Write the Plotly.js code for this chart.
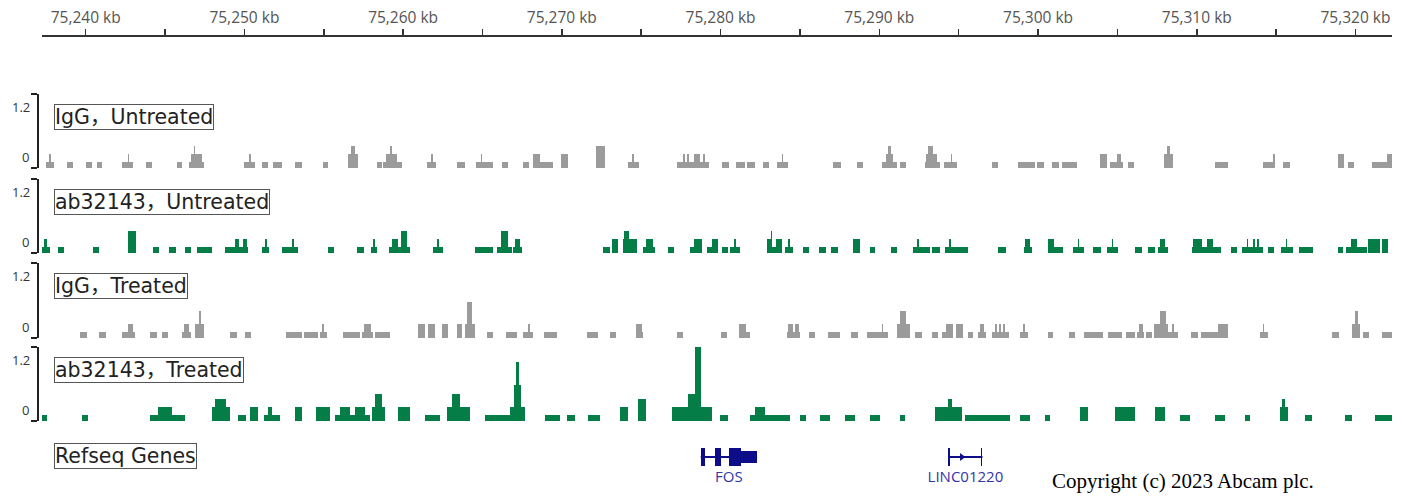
<!DOCTYPE html>
<html><head><meta charset="utf-8">
<script src="https://cdn.plot.ly/plotly-3.0.1.min.js"></script>
<style>html,body{margin:0;padding:0;background:#fff}#chart{width:1405px;height:498px}</style>
</head><body><div id="chart"></div>
<script>
// ---------- data (genomic positions in kb) ----------
const tickKb = [75240,75250,75260,75270,75280,75290,75300,75310,75320];
const tickLabels = ['75,240 kb','75,250 kb','75,260 kb','75,270 kb','75,280 kb','75,290 kb','75,300 kb','75,310 kb','75,320 kb'];
const minorKb = [75245,75255,75265,75275,75285,75295,75305,75315];
const viewKb = [75237.25, 75322.3];
const trackNames = ['IgG，Untreated','ab32143，Untreated','IgG，Treated','ab32143，Treated'];
const scaleLabels = ['1.2','0'];

// [start kb, end kb, signal]
const iggUntreated = [
[75237.5,75238.0,0.1],[75237.7,75237.8,0.22],[75238.8,75239.2,0.1],[75240.0,75240.4,0.1],[75240.7,75241.0,0.1],
[75242.3,75243.0,0.1],[75242.65,75242.75,0.22],[75243.8,75244.2,0.1],[75245.75,75246.1,0.1],
[75246.5,75247.45,0.1],[75246.65,75247.3,0.22],[75246.8,75246.9,0.35],
[75250.0,75250.7,0.1],[75250.3,75250.4,0.22],[75251.1,75251.5,0.1],[75251.8,75252.4,0.1],[75253.2,75253.6,0.1],
[75254.95,75255.25,0.1],[75256.5,75257.15,0.22],[75256.7,75257.0,0.35],[75258.35,75258.65,0.1],
[75258.75,75259.9,0.1],[75258.9,75259.6,0.22],[75259.2,75259.3,0.35],[75261.5,75262.1,0.1],[75261.75,75261.9,0.22],
[75263.4,75263.9,0.1],[75264.6,75265.65,0.1],[75264.9,75265.0,0.22],[75266.2,75266.6,0.1],[75267.55,75267.9,0.1],
[75268.2,75268.6,0.22],[75268.6,75269.45,0.1],[75269.95,75270.4,0.22],[75272.15,75272.7,0.35],
[75274.15,75274.85,0.1],[75274.45,75274.55,0.22],[75277.25,75279.25,0.1],[75277.65,75277.75,0.22],[75277.9,75278.0,0.22],
[75278.3,75278.7,0.22],[75278.9,75279.0,0.22],[75280.1,75280.5,0.1],[75281.0,75281.55,0.1],[75281.65,75282.15,0.1],
[75282.65,75283.05,0.1],[75283.55,75284.25,0.1],[75283.85,75283.95,0.22],[75287.1,75287.6,0.1],[75288.6,75289.0,0.1],
[75290.15,75291.1,0.1],[75290.4,75290.85,0.22],[75290.55,75290.75,0.35],[75291.3,75291.7,0.1],
[75292.9,75293.8,0.1],[75292.95,75293.65,0.22],[75293.05,75293.4,0.35],[75294.05,75294.9,0.1],[75294.5,75294.6,0.22],
[75297.1,75297.5,0.1],[75298.75,75299.8,0.1],[75299.95,75300.4,0.1],[75300.9,75301.3,0.1],[75301.5,75302.45,0.1],
[75303.9,75304.35,0.22],[75304.55,75305.35,0.1],[75305.0,75305.2,0.22],[75305.65,75306.05,0.1],
[75307.95,75308.5,0.22],[75308.1,75308.3,0.35],[75311.15,75311.95,0.1],[75314.2,75314.95,0.1],[75314.8,75314.95,0.22],
[75315.45,75315.85,0.1],[75318.9,75319.3,0.22],[75319.5,75319.9,0.1],[75321.05,75322.0,0.1],[75322.0,75322.3,0.22]
];
const abUntreated = [
[75237.25,75237.75,0.1],[75237.4,75237.55,0.22],[75238.25,75238.65,0.1],[75240.45,75240.85,0.1],[75242.65,75243.15,0.35],
[75244.25,75244.6,0.1],[75245.25,75245.7,0.1],[75246.25,75246.65,0.1],[75247.0,75247.95,0.1],
[75248.8,75250.2,0.1],[75249.4,75249.65,0.22],[75249.9,75250.15,0.22],[75251.1,75251.55,0.1],[75251.3,75251.4,0.22],
[75252.35,75253.35,0.1],[75253.0,75253.1,0.22],[75255.25,75255.65,0.1],[75257.1,75257.55,0.1],
[75257.95,75258.35,0.1],[75258.1,75258.25,0.22],[75259.1,75260.45,0.1],[75259.3,75259.7,0.22],[75259.85,75260.25,0.35],
[75261.9,75262.5,0.1],[75262.15,75262.25,0.22],
[75264.55,75265.65,0.1],[75265.9,75266.85,0.1],[75266.15,75266.6,0.35],[75266.9,75267.5,0.1],[75267.05,75267.35,0.22],
[75272.6,75273.05,0.1],[75273.15,75273.55,0.22],[75273.85,75274.75,0.22],[75273.9,75274.25,0.35],
[75275.1,75275.85,0.1],[75275.3,75275.75,0.22],[75276.7,75277.05,0.1],[75278.05,75278.85,0.1],[75278.3,75278.85,0.22],
[75279.15,75279.85,0.1],[75279.45,75279.85,0.22],[75280.1,75280.45,0.1],[75280.6,75281.2,0.1],[75280.85,75280.95,0.22],
[75282.9,75283.85,0.1],[75282.9,75283.25,0.22],[75283.15,75283.25,0.35],[75283.5,75283.85,0.22],
[75284.05,75284.55,0.1],[75284.25,75284.35,0.22],[75285.2,75285.55,0.1],[75286.2,75286.65,0.1],[75286.95,75287.4,0.1],
[75288.35,75288.8,0.22],[75289.4,75289.75,0.1],[75290.75,75291.1,0.1],[75292.1,75293.2,0.1],[75292.35,75292.5,0.22],
[75293.3,75293.8,0.1],[75294.15,75295.6,0.1],[75294.4,75294.5,0.22],[75297.5,75298.0,0.1],
[75299.1,75299.6,0.1],[75299.2,75299.5,0.22],[75300.6,75301.55,0.1],[75300.6,75301.0,0.22],
[75302.2,75302.9,0.1],[75302.5,75302.6,0.22],[75303.45,75303.95,0.1],[75304.35,75305.05,0.1],[75304.65,75304.75,0.22],
[75306.1,75306.55,0.1],[75306.9,75307.35,0.1],[75307.55,75308.2,0.1],[75307.7,75308.0,0.22],
[75309.7,75311.5,0.1],[75309.75,75310.35,0.22],[75310.65,75311.0,0.22],[75312.15,75312.55,0.1],
[75312.85,75314.15,0.1],[75313.15,75313.25,0.22],[75313.55,75313.65,0.22],[75313.8,75313.9,0.22],
[75314.5,75314.85,0.1],[75315.3,75316.05,0.1],[75315.6,75315.7,0.22],[75316.45,75317.3,0.1],
[75318.9,75319.2,0.1],[75319.4,75320.7,0.1],[75319.7,75320.1,0.22],[75320.8,75321.55,0.22],[75321.65,75322.05,0.22]
];
const iggTreated = [
[75239.65,75240.1,0.1],[75240.85,75241.3,0.1],[75242.3,75243.1,0.1],[75242.65,75243.0,0.22],[75244.05,75244.5,0.1],
[75244.8,75245.2,0.1],[75246.05,75246.65,0.1],[75246.2,75246.5,0.22],[75246.9,75247.45,0.22],[75247.15,75247.25,0.43],
[75249.1,75249.55,0.1],[75250.05,75250.4,0.1],[75252.6,75253.6,0.1],[75253.75,75254.65,0.1],
[75254.75,75255.2,0.1],[75254.9,75255.0,0.22],[75256.2,75257.3,0.1],[75257.4,75258.1,0.1],[75257.55,75257.95,0.22],
[75258.2,75259.15,0.1],[75260.95,75261.4,0.22],[75261.55,75262.0,0.22],[75262.45,75262.8,0.22],
[75263.4,75263.7,0.22],[75263.9,75264.55,0.22],[75264.0,75264.35,0.58],
[75265.3,75265.65,0.1],[75266.5,75267.15,0.1],[75267.55,75268.2,0.1],[75267.85,75268.0,0.22],[75268.85,75269.7,0.1],
[75271.6,75272.3,0.1],[75273.05,75273.4,0.1],[75274.65,75275.1,0.1],[75274.7,75275.05,0.22],[75277.25,75277.65,0.1],
[75280.0,75280.4,0.1],[75281.15,75281.6,0.22],[75281.6,75281.85,0.1],
[75284.2,75285.0,0.1],[75284.25,75284.55,0.22],[75284.7,75284.95,0.22],[75285.55,75285.95,0.1],[75286.75,75287.5,0.1],
[75288.2,75288.65,0.1],[75289.2,75290.55,0.1],[75290.15,75290.25,0.22],[75291.1,75291.95,0.22],[75291.3,75291.7,0.43],
[75292.25,75292.7,0.1],[75293.3,75293.7,0.1],
[75293.95,75294.2,0.1],[75294.2,75294.65,0.22],[75294.85,75295.25,0.22],[75295.6,75295.9,0.1],
[75296.2,75296.7,0.1],[75296.35,75296.6,0.22],[75297.1,75298.15,0.1],[75297.3,75297.4,0.22],[75297.55,75297.65,0.22],[75297.8,75297.9,0.22],
[75298.85,75299.35,0.1],[75299.05,75299.2,0.22],[75300.6,75300.95,0.1],[75301.95,75302.35,0.1],
[75302.9,75304.1,0.1],[75304.4,75305.3,0.1],[75305.55,75306.1,0.1],[75306.25,75306.65,0.1],[75306.35,75306.6,0.22],
[75306.8,75307.2,0.1],[75307.3,75308.8,0.1],[75307.3,75308.2,0.22],[75307.7,75308.05,0.43],[75308.45,75308.55,0.22],
[75309.65,75310.05,0.1],[75310.25,75311.95,0.1],[75311.35,75311.95,0.22],[75314.0,75314.5,0.1],[75314.15,75314.25,0.22],
[75318.5,75318.95,0.1],[75319.8,75320.3,0.22],[75319.95,75320.15,0.43],[75320.45,75320.85,0.1],[75321.65,75322.3,0.1]
];
const abTreated = [
[75237.25,75237.55,0.1],[75239.75,75240.15,0.1],[75244.05,75246.25,0.1],[75244.55,75245.45,0.22],
[75247.95,75249.1,0.22],[75248.15,75248.85,0.35],[75249.6,75250.1,0.1],[75250.35,75250.85,0.22],
[75251.25,75252.25,0.1],[75251.5,75251.75,0.22],[75253.2,75253.6,0.22],[75254.5,75255.4,0.22],
[75255.7,75257.9,0.1],[75256.0,75256.65,0.22],[75256.95,75257.6,0.22],[75258.05,75258.85,0.22],[75258.25,75258.65,0.43],
[75259.7,75260.45,0.22],[75261.4,75262.3,0.1],[75262.75,75264.2,0.22],[75263.1,75263.6,0.43],
[75265.15,75266.75,0.1],[75266.75,75267.7,0.22],[75267.0,75267.4,0.58],[75267.1,75267.3,0.96],
[75268.95,75269.9,0.1],[75270.3,75270.85,0.1],[75271.65,75272.4,0.1],[75273.65,75274.15,0.22],[75274.8,75275.3,0.35],
[75276.95,75279.45,0.22],[75277.95,75278.7,0.43],[75278.4,75278.75,1.2],[75279.95,75280.45,0.1],
[75281.85,75284.35,0.1],[75282.15,75282.8,0.22],[75285.0,75285.4,0.1],[75286.25,75286.9,0.1],[75287.85,75288.45,0.1],
[75289.4,75290.05,0.1],[75291.3,75291.6,0.1],[75293.5,75295.2,0.22],[75294.3,75294.6,0.35],[75295.4,75298.25,0.1],
[75298.85,75299.5,0.1],[75300.45,75300.75,0.1],[75302.65,75303.15,0.22],[75304.85,75306.1,0.22],[75307.35,75308.0,0.22],
[75308.95,75309.55,0.1],[75311.15,75311.8,0.1],[75313.05,75313.35,0.1],[75315.25,75315.75,0.22],[75315.4,75315.55,0.35],
[75316.8,75317.25,0.1],[75319.35,75319.8,0.1],[75321.25,75322.3,0.1]
];

// genes
const geneNames = ['FOS','LINC01220'];
const geneStarts = [75278.75, 75294.35];
const geneEnds = [75282.3, 75296.5];
const geneExons = [
  [[75278.75,75279.05],[75279.65,75280.0],[75280.55,75281.3],[75281.3,75282.3]],
  [[75294.35,75294.45],[75296.4,75296.5]]
];
const geneExonHalf = [[0.45,0.45,0.45,0.3],[0.45,0.45]];
const geneTrackName = 'Refseq Genes';
const copyright = 'Copyright (c) 2023 Abcam plc.';

// ---------- layout geometry ----------
const W = 1405, H = 498, ML = 38, MR = 13, MT = 36, MB = 0;
const PW = W - ML - MR, PH = H - MT - MB;
const py = p => (H - MB - p) / PH;        // pixel row -> paper y
const trackPx = [[94,168],[179,253],[263,338],[347,421]];
const grey = '#9b9b9b', green = '#047d46';
const trackData = [iggUntreated, abUntreated, iggTreated, abTreated];
const trackColors = [grey, green, grey, green];
const labelFont = {family: 'DejaVu Sans, Noto Sans CJK SC', size: 20.5, color: '#222'};

const traces = [];
const layout = {
  width: W, height: H, margin: {l: ML, r: MR, t: MT, b: MB},
  paper_bgcolor: '#fff', plot_bgcolor: '#fff', showlegend: false,
  barmode: 'overlay', bargap: 0,
  xaxis: {
    domain: [(42 - ML) / PW, 1], range: viewKb, side: 'top', anchor: 'free', position: 1,
    showline: true, linecolor: '#333', linewidth: 2, ticks: 'outside', ticklen: 6, tickwidth: 1.5, tickcolor: '#333',
    tickvals: tickKb, ticktext: tickLabels, tickfont: {family: 'Open Sans', size: 15.5, color: '#555'},
    showgrid: false, zeroline: false, fixedrange: true,
    minor: {tickvals: minorKb, ticks: 'outside', ticklen: 6, tickwidth: 1.5, tickcolor: '#333', showgrid: false}
  },
  annotations: []
};

trackData.forEach((seg, i) => {
  const ax = 'y' + (i + 1);
  traces.push({
    type: 'bar', xaxis: 'x', yaxis: ax,
    x: seg.map(d => (d[0] + d[1]) / 2), width: seg.map(d => d[1] - d[0]), y: seg.map(d => d[2]),
    marker: {color: trackColors[i], line: {width: 0}}, hoverinfo: 'skip'
  });
  const [top, bot] = trackPx[i];
  layout['yaxis' + (i + 1)] = {
    domain: [py(bot), py(top)], range: [0, 1.2], anchor: 'free', position: 0,
    showline: true, linecolor: '#222', linewidth: 2, ticks: 'outside', tickvals: [0, 1.2], ticklen: 6,
    tickwidth: 2, tickcolor: '#222', showticklabels: false, showgrid: false, zeroline: false, fixedrange: true
  };
  const yd = 'y' + (i + 1) + ' domain';
  layout.annotations.push(
    {xref: 'paper', yref: yd, x: -6 / PW, y: 1, yshift: -13, xanchor: 'right', yanchor: 'middle', showarrow: false,
     text: scaleLabels[0], font: {family: 'Open Sans', size: 13, color: '#333'}},
    {xref: 'paper', yref: yd, x: -7 / PW, y: 0, yshift: 11, xanchor: 'right', yanchor: 'middle', showarrow: false,
     text: scaleLabels[1], font: {family: 'Open Sans', size: 13, color: '#333'}},
    {xref: 'paper', yref: yd, x: (54 - ML) / PW, y: 1, yshift: -22.6, xanchor: 'left', yanchor: 'middle', showarrow: false,
     text: trackNames[i], font: labelFont, bordercolor: '#555', borderwidth: 1, borderpad: 0, bgcolor: '#fff'}
  );
});

// gene track
layout.yaxis5 = {domain: [py(497), py(437)], range: [-2, 1], visible: false, fixedrange: true, anchor: 'x'};
const navy = '#0d0d8a';
geneNames.forEach((g, k) => {
  traces.push({type: 'scatter', mode: 'lines', xaxis: 'x', yaxis: 'y5', x: [geneStarts[k], geneEnds[k]], y: [0, 0],
    line: {color: navy, width: 2}, hoverinfo: 'skip'});
  const ex = geneExons[k];
  traces.push({type: 'bar', xaxis: 'x', yaxis: 'y5',
    x: ex.map(e => (e[0] + e[1]) / 2), width: ex.map(e => e[1] - e[0]),
    base: geneExonHalf[k].map(h => -h), y: geneExonHalf[k].map(h => 2 * h),
    marker: {color: navy, line: {width: 0}}, hoverinfo: 'skip'});
});
traces.push({type: 'scatter', mode: 'markers', xaxis: 'x', yaxis: 'y5',
  x: [75295.2], y: [0], marker: {symbol: 'triangle-right', size: 7, color: navy}, hoverinfo: 'skip'});
traces.push({type: 'scatter', mode: 'text', xaxis: 'x', yaxis: 'y5', cliponaxis: false,
  x: geneNames.map((g, k) => (geneStarts[k] + geneEnds[k]) / 2), y: geneNames.map(() => -1.05),
  text: geneNames, textfont: {family: 'Open Sans', size: 15, color: '#3434a8'}, hoverinfo: 'skip'});
layout.annotations.push(
  {xref: 'paper', yref: 'paper', x: (54 - ML) / PW, y: py(455.5), xanchor: 'left', yanchor: 'middle', showarrow: false,
   text: geneTrackName, font: labelFont, bordercolor: '#555', borderwidth: 1, borderpad: 0, bgcolor: '#fff'},
  {xref: 'paper', yref: 'paper', x: (1050 - ML) / PW, y: py(481), xanchor: 'left', yanchor: 'middle', showarrow: false,
   text: copyright, font: {family: 'Liberation Serif', size: 21, color: '#000'}}
);

Plotly.newPlot('chart', traces, layout, {staticPlot: true, displayModeBar: false});
</script>
</body></html>
